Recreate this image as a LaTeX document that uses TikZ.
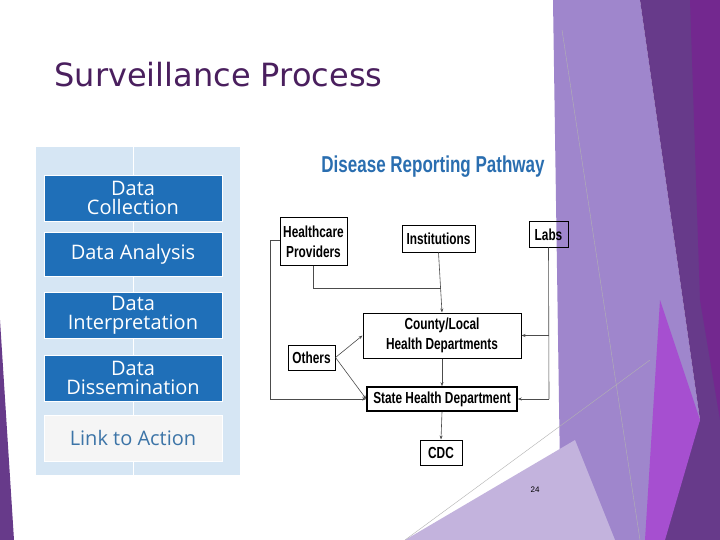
\documentclass[tikz,border=0pt]{standalone}
\usepackage{fontspec}
\setmainfont{Liberation Sans}
\newfontfamily\narrowf{Liberation Sans}[FakeStretch=0.74]
\newfontfamily\titlef{DejaVu Sans}
\newfontfamily\barf{Open Sans}
\usetikzlibrary{arrows.meta}
\definecolor{lav}{HTML}{9F86CC}
\definecolor{dkp}{HTML}{673A8A}
\definecolor{brp}{HTML}{73288F}
\definecolor{mag}{HTML}{A64FD0}
\definecolor{llav}{HTML}{C3B3DD}
\definecolor{barblue}{HTML}{1F6FB8}
\definecolor{panel}{HTML}{D6E6F4}
\definecolor{ttl}{HTML}{4A1F5E}
\definecolor{drp}{HTML}{2A6EB0}
\begin{document}
\begin{tikzpicture}[x=1pt,y=-1pt,
  bar/.style={fill=barblue,draw=white,line width=0.8pt,minimum width=178pt,inner sep=0pt,text=white,font=\barf\fontsize{20}{20}\selectfont,align=center},
  box/.style={draw=black,line width=1pt,inner sep=0pt,align=center,font=\narrowf\bfseries\fontsize{16}{20}\selectfont},
  ln/.style={draw=black!70,line width=0.6pt},
  ar/.style={ln,-{Stealth[length=4pt,width=3pt]}}]
\useasboundingbox (0,0) rectangle (720,540);
\fill[white] (0,0) rectangle (720,540);
% decorations
\fill[lav] (553,0) -- (640,0) -- (700,420) -- (660,540) -- (570,540) -- (560,470) -- cycle;
\fill[dkp] (640,0) -- (720,0) -- (720,540) -- (650,540) -- (700,420) -- cycle;
\fill[brp] (690,0) -- (720,0) -- (720,420) -- (700,300) -- cycle;
\fill[mag] (660,300) -- (700,420) -- (665,540) -- (645,540) -- cycle;
\fill[llav] (405,540) -- (575,440) -- (615,540) -- cycle;
\draw[gray!60,line width=0.4pt] (562,30) -- (640,540);
\draw[gray!60,line width=0.4pt] (405,540) -- (650,360);
\fill[dkp] (0,320) -- (14,540) -- (0,540) -- cycle;
% title
\node[anchor=west,text=ttl,font=\titlef\fontsize{32}{36}\selectfont] (title) at (51,75) {Surveillance Process};
% left panel
\fill[panel] (36,147) rectangle (240,475);
\draw[white,line width=1pt] (133,147) -- (133,475);
\node[bar,minimum height=46pt] (dc) at (133,198) {Data\\[-1pt]Collection};
\node[bar,minimum height=44pt] (da) at (133,254) {Data Analysis};
\node[bar,minimum height=46pt] (di) at (133,315) {Data\\[-1pt]Interpretation};
\node[bar,minimum height=46pt] (dd) at (133,378) {Data\\[-1pt]Dissemination};
\node[bar,minimum height=46pt,fill=gray!8,text=barblue!70!gray] (la) at (133,438) {Link to Action};
% pathway
\node[text=drp,font=\narrowf\bfseries\fontsize{23}{24}\selectfont] (dtitle) at (433,167) {Disease Reporting Pathway};
\node[box,minimum width=67pt,minimum height=47pt] (hp) at (313.5,241.5) {Healthcare\\Providers};
\node[box,minimum width=73pt,minimum height=26pt] (inst) at (438.5,239) {Institutions};
\node[box,minimum width=39pt,minimum height=25pt] (labs) at (548.5,234.5) {Labs};
\node[box,minimum width=158pt,minimum height=45pt] (cty) at (442,335.5) {County/Local\\Health Departments};
\node[box,minimum width=47pt,minimum height=25pt] (oth) at (311.5,357.5) {Others};
\node[box,line width=1.6pt,minimum width=150pt,minimum height=24pt] (st) at (442,399) {State Health Department};
\node[box,minimum width=42pt,minimum height=25pt] (cdc) at (441,452.5) {CDC};
\coordinate (j1) at (441,288);
\draw[ln] (hp.south) -- (hp.south |- j1) -- (j1);
\draw[ar] (inst.south) -- (cty.north);
\draw[ln] (hp.west |- 0,240) -- (270,240) -- (270,399);
\draw[ar] (270,399) -- (st.west);
\draw[ln] (labs.south) -- (549,399);
\draw[ar] (549,335.5) -- (cty.east);
\draw[ar] (549,399) -- (st.east);
\draw[ar] (oth.east) -- (cty.west);
\draw[ar] (oth.east) -- (st.west);
\draw[ar] (cty.south) -- (st.north);
\draw[ar] (st.south) -- (cdc.north);
\node[font=\fontsize{8}{9}\selectfont] (pg) at (535,490) {24};
\end{tikzpicture}
\end{document}
